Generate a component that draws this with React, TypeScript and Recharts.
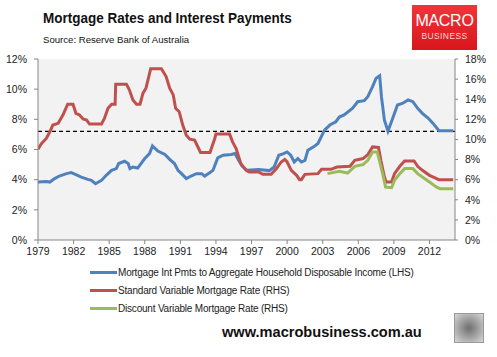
import React from "react";
import { LineChart, Line, XAxis, YAxis, CartesianGrid, ReferenceLine } from "recharts";

// Mortgage interest payments / household disposable income (LHS, %)
const pmtYears = [
  1979.0, 1979.7, 1980.0, 1980.4, 1980.8, 1981.4, 1981.8, 1982.2, 1982.65, 1983.2, 1983.5, 1983.85,
  1984.35, 1984.75, 1985.2, 1985.6, 1985.8, 1986.3, 1986.6, 1986.75, 1987.0, 1987.4, 1988.0, 1988.4,
  1988.65, 1989.1, 1989.7, 1990.1, 1990.5, 1990.8, 1991.1, 1991.5, 1991.9, 1992.35, 1992.8, 1993.05,
  1993.5, 1993.75, 1994.15, 1994.6, 1995.3, 1995.6, 1995.9, 1996.2, 1996.6, 1997.6, 1998.5, 1998.9,
  1999.3, 1999.7, 2000.0, 2000.3, 2000.6, 2000.9, 2001.2, 2001.5, 2001.75, 2002.3, 2002.6, 2003.15,
  2003.6, 2004.1, 2004.4, 2004.8, 2005.5, 2005.95, 2006.5, 2006.8, 2007.2, 2007.5, 2007.8, 2007.95,
  2008.2, 2008.5, 2008.9, 2009.3, 2009.75, 2010.2, 2010.6, 2011.0, 2011.4, 2011.9, 2012.3, 2012.8, 2014.0,
];
const pmtValues = [
  3.84, 3.88, 3.84, 4.07, 4.24, 4.4, 4.47, 4.33, 4.17, 4.02, 3.95, 3.73,
  3.95, 4.29, 4.62, 4.73, 5.07, 5.22, 5.07, 4.73, 4.84, 4.77, 5.4, 5.73,
  6.24, 5.9, 5.67, 5.35, 5.07, 4.62, 4.4, 4.07, 4.24, 4.4, 4.4, 4.24,
  4.47, 4.62, 5.44, 5.62, 5.67, 5.73, 5.3, 4.9, 4.62, 4.67, 4.6, 4.84,
  5.62, 5.73, 5.84, 5.62, 5.17, 5.4, 5.17, 5.28, 5.95, 6.22, 6.4, 7.29,
  7.62, 7.84, 8.15, 8.29, 8.73, 9.17, 9.24, 9.5, 10.17, 10.73, 10.89, 9.5,
  7.95, 7.22, 8.07, 8.95, 9.07, 9.29, 9.17, 8.73, 8.4, 8.07, 7.73, 7.24, 7.24,
];

// Standard variable mortgage rate (RHS, %)
const svrYears = [
  1979.0, 1979.3, 1979.7, 1980.0, 1980.25, 1980.7, 1981.1, 1981.5, 1981.95, 1982.2, 1982.5, 1982.8,
  1983.1, 1983.35, 1984.35, 1984.6, 1984.9, 1985.2, 1985.5, 1985.55, 1986.45, 1986.7, 1987.0, 1987.3,
  1987.6, 1987.85, 1988.1, 1988.5, 1989.4, 1989.8, 1990.1, 1990.4, 1990.6, 1990.9, 1991.2, 1991.5,
  1991.8, 1992.2, 1992.7, 1993.5, 1993.9, 1994.0, 1995.15, 1995.4, 1995.7, 1996.1, 1996.55, 1996.8,
  1997.6, 1997.95, 1998.65, 1999.1, 1999.5, 1999.8, 2000.0, 2000.35, 2000.8, 2001.05, 2001.2, 2001.5,
  2002.6, 2002.9, 2003.7, 2004.2, 2005.3, 2005.7, 2006.4, 2006.8, 2007.2, 2007.7, 2007.9, 2008.2,
  2008.35, 2008.8, 2009.05, 2009.5, 2009.9, 2010.7, 2011.0, 2011.4, 2012.0, 2012.6, 2012.8, 2014.0,
];
const svrValues = [
  9.03, 9.6, 10.1, 10.76, 11.43, 11.6, 12.43, 13.5, 13.5, 12.6, 12.43, 12.03,
  11.93, 11.53, 11.53, 12.1, 13.1, 13.5, 13.5, 15.5, 15.5, 14.93, 13.93, 13.5,
  13.5, 14.6, 15.1, 17.03, 17.03, 16.26, 15.1, 14.43, 13.1, 12.76, 11.43, 10.43,
  10.03, 9.93, 8.7, 8.7, 10.1, 10.53, 10.53, 9.76, 9.1, 7.6, 6.93, 6.76,
  6.76, 6.53, 6.53, 7.1, 7.76, 8.0, 7.76, 6.93, 6.43, 6.0, 6.0, 6.53,
  6.6, 7.03, 7.03, 7.26, 7.33, 7.93, 8.1, 8.5, 9.26, 9.2, 7.93, 6.26,
  5.76, 5.76, 6.6, 7.33, 7.86, 7.86, 7.33, 6.93, 6.43, 6.1, 6.0, 6.0,
];

// Discount variable mortgage rate (RHS, %)
const dvrYears = [
  2003.4, 2004.4, 2005.1, 2005.7, 2006.4, 2006.8, 2007.2, 2007.6, 2008.05, 2008.3, 2008.8,
  2009.05, 2009.5, 2009.9, 2010.6, 2011.0, 2011.4, 2012.0, 2012.6, 2012.9, 2014.0,
];
const dvrValues = [
  6.6, 6.83, 6.66, 7.33, 7.5, 7.93, 8.76, 8.76, 6.6, 5.26, 5.2,
  5.93, 6.6, 7.1, 7.1, 6.6, 6.26, 5.76, 5.26, 5.1, 5.1,
];

const xTicks = [1979, 1982, 1985, 1988, 1991, 1994, 1997, 2000, 2003, 2006, 2009, 2012];
const leftTicks = [0, 2, 4, 6, 8, 10, 12];
const rightTicks = [0, 2, 4, 6, 8, 10, 12, 14, 16, 18];
const averageLine = 7.2; // dashed line on LHS

const seriesNames = [
  "Mortgage Int Pmts to Aggregate Household Disposable Income (LHS)",
  "Standard Variable Mortgage Rate (RHS)",
  "Discount Variable Mortgage Rate (RHS)",
];
const colors = ["#4F81BD", "#C0504D", "#9BBB59"];

const toData = (xs: number[], ys: number[]) => xs.map((x, i) => ({ year: x, value: ys[i] }));

const pmtData = toData(pmtYears, pmtValues);
const svrData = toData(svrYears, svrValues);
const dvrData = toData(dvrYears, dvrValues);

const sans = "'Liberation Sans', Arial, sans-serif";
const tickFont = { fontSize: 10.5, fill: "#222", fontFamily: sans };
const axisGray = "#868686";

// legend drawn under the plot, like the excel original
const ChartLegend = () => (
  <div
    style={{
      position: "absolute", left: 90, top: 263, fontFamily: sans, fontSize: 10,
      letterSpacing: -0.2, color: "#222",
    }}
  >
    {seriesNames.map((name, i) => (
      <div key={name} style={{ display: "flex", alignItems: "center", height: 18.3 }}>
        <span style={{ display: "inline-block", width: 27, height: 3, background: colors[i] }} />
        <span style={{ marginLeft: 1, whiteSpace: "nowrap" }}>{name}</span>
      </div>
    ))}
  </div>
);

export default function App() {
  return (
    <div style={{ position: "absolute", left: 0, top: 0, width: 497, height: 357, background: "#fff", overflow: "hidden" }}>
      <div
        style={{
          position: "absolute", left: 43, top: 9, fontFamily: sans, fontWeight: "bold", fontSize: 15.5,
          color: "#111", whiteSpace: "nowrap", transform: "scaleX(0.87)", transformOrigin: "left top",
        }}
      >
        Mortgage Rates and Interest Payments
      </div>
      <div style={{ position: "absolute", left: 43, top: 34, fontFamily: sans, fontSize: 9.6, color: "#111", whiteSpace: "nowrap" }}>
        Source: Reserve Bank of Australia
      </div>

      {/* logo */}
      <div
        style={{
          position: "absolute", left: 412, top: 5, width: 65, height: 45,
          background: "linear-gradient(180deg, #f0353a 0%, #d8161c 100%)",
          color: "#fff", fontFamily: sans, textAlign: "center",
        }}
      >
        <div style={{ fontSize: 16, lineHeight: "18px", marginTop: 7, letterSpacing: -0.3 }}>MACRO</div>
        <div style={{ fontSize: 8.5, lineHeight: "12px", letterSpacing: 0.4, color: "#fbd4d4" }}>BUSINESS</div>
      </div>

      <LineChart width={497} height={357} margin={{ top: 59, right: 0, bottom: 97, left: 0 }}>
        <CartesianGrid fill="#F2F2F2" horizontal={false} vertical={false} />
        <XAxis
          dataKey="year"
          type="number"
          domain={[1979, 2014.15]}
          ticks={xTicks}
          interval={0}
          allowDataOverflow
          tick={tickFont}
          tickSize={4}
          tickMargin={4}
          height={20}
          stroke={axisGray}
          tickLine={{ stroke: axisGray }}
        />
        <YAxis
          yAxisId="left"
          domain={[0, 12]}
          ticks={leftTicks}
          interval={0}
          tickFormatter={(v: number) => `${v}%`}
          width={38}
          tick={tickFont}
          tickSize={4}
          tickMargin={7}
          stroke={axisGray}
        />
        <YAxis
          yAxisId="right"
          orientation="right"
          domain={[0, 18]}
          ticks={rightTicks}
          interval={0}
          tickFormatter={(v: number) => `${v}%`}
          width={42}
          tick={tickFont}
          tickSize={3}
          tickMargin={7}
          stroke={axisGray}
        />
        <ReferenceLine yAxisId="left" y={averageLine} stroke="#000" strokeDasharray="4 3" strokeWidth={1.3} />
        <Line
          yAxisId="left"
          data={pmtData}
          dataKey="value"
          name={seriesNames[0]}
          stroke={colors[0]}
          strokeWidth={3}
          dot={false}
          type="linear"
          isAnimationActive={false}
        />
        <Line
          yAxisId="right"
          data={svrData}
          dataKey="value"
          name={seriesNames[1]}
          stroke={colors[1]}
          strokeWidth={3}
          dot={false}
          type="linear"
          isAnimationActive={false}
        />
        <Line
          yAxisId="right"
          data={dvrData}
          dataKey="value"
          name={seriesNames[2]}
          stroke={colors[2]}
          strokeWidth={3}
          dot={false}
          type="linear"
          isAnimationActive={false}
        />
      </LineChart>

      <ChartLegend />

      <div
        style={{
          position: "absolute", left: 222, top: 324, fontFamily: sans, fontWeight: "bold", fontSize: 14.6,
          color: "#111", whiteSpace: "nowrap",
        }}
      >
        www.macrobusiness.com.au
      </div>

      {/* wolf badge */}
      <div
        style={{
          position: "absolute", left: 454, top: 313, width: 28, height: 28, border: "1px solid #9a9a9a",
          background: "radial-gradient(circle at 50% 50%, #6f6f6f 0%, #a8a8a8 55%, #d8d8d8 100%)",
        }}
      />
    </div>
  );
}
